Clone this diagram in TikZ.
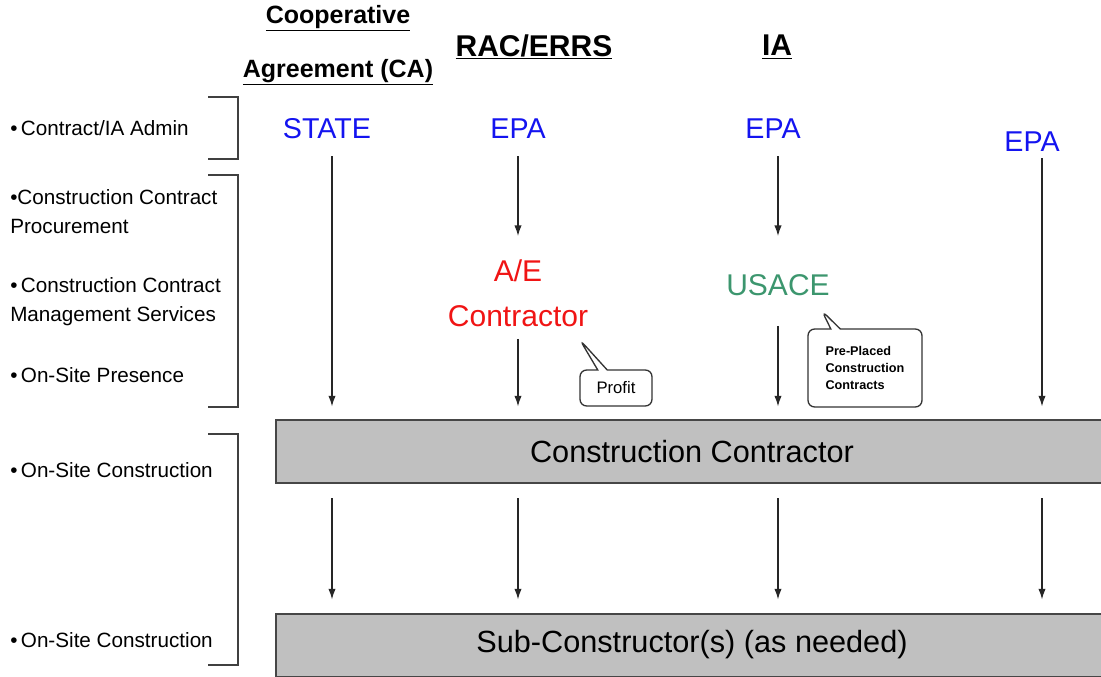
\documentclass[tikz,border=0pt]{standalone}
\usepackage{fontspec}
\setmainfont{Liberation Sans}
\usetikzlibrary{arrows.meta,shapes.callouts}
\definecolor{myblue}{RGB}{20,20,240}
\definecolor{myred}{RGB}{240,20,20}
\definecolor{mygreen}{RGB}{60,150,110}
\definecolor{boxgray}{RGB}{192,192,192}
\definecolor{edgegray}{RGB}{70,70,70}
\tikzset{
  hdr/.style={font=\fontsize{18.75}{22}\selectfont\bfseries, inner sep=0pt},
  bighdr/.style={font=\fontsize{22.5}{26}\selectfont\bfseries, inner sep=0pt},
  actor/.style={font=\fontsize{21.5}{26}\selectfont, inner sep=0pt},
  side/.style={font=\fontsize{15.5}{21.75}\selectfont, inner sep=0pt, anchor=west, align=left},
  bar/.style={draw=edgegray, line width=1.5pt, fill=boxgray, minimum width={833*0.75pt}, minimum height={63*0.75pt}, inner sep=0pt, font=\fontsize{23}{26}\selectfont},
  arr/.style={draw=black!85, line width=1pt, -{Latex[length=8pt,width=5.5pt]}},
  brk/.style={draw=black!75, line width=1.4pt},
  bubble/.style={rectangle callout, draw=black!80, line width=1pt, rounded corners=5pt, fill=white, align=center, inner sep=2pt},
}
\begin{document}
\begin{tikzpicture}[x=0.75pt,y=-0.75pt]
\useasboundingbox (0,0) rectangle (1101,677);
% headers
\node[hdr] (h1) at (338,18) {\underline{Cooperative}};
\node[hdr] (h2) at (338,72) {\underline{Agreement (CA)}};
\node[bighdr] (h3) at (534,47) {\underline{RAC/ERRS}};
\node[bighdr] (h4) at (777,47) {\underline{IA}};
% actors
\node[actor, text=myblue] (state) at (327,129) {STATE};
\node[actor, text=myblue] (epa1) at (518,129) {EPA};
\node[actor, text=myblue] (epa2) at (773,129) {EPA};
\node[actor, text=myblue] (epa3) at (1032,142) {EPA};
\node[actor, text=myred, align=center, font=\fontsize{22.5}{34}\selectfont] (ae) at (518,293) {A/E\\Contractor};
\node[actor, text=mygreen, font=\fontsize{22.5}{26}\selectfont] (usace) at (778,285) {USACE};
% bars
\node[bar] (cc) at (692,452) {Construction Contractor};
\node[bar] (sub) at (692,645) {Sub-Constructor(s) (as needed)};
% column x positions
\coordinate (x1) at (332,0);
\coordinate (x2) at (518,0);
\coordinate (x3) at (778,0);
\coordinate (x4) at (1042,0);
% arrows top
\draw[arr] (state.south -| x1) ++(0,17) -- ([yshift=13*0.75pt]cc.north -| x1);
\draw[arr] (epa1.south -| x2) ++(0,17) -- ([yshift=23*0.75pt]ae.north -| x2);
\draw[arr] (ae.south -| x2) ++(0,12) -- ([yshift=13*0.75pt]cc.north -| x2);
\draw[arr] (epa2.south -| x3) ++(0,17) -- ([yshift=38*0.75pt]usace.north -| x3);
\draw[arr] (usace.south -| x3) ++(0,30) -- ([yshift=13*0.75pt]cc.north -| x3);
\draw[arr] (epa3.south -| x4) ++(0,6) -- ([yshift=13*0.75pt]cc.north -| x4);
% arrows bottom
\foreach \c in {x1,x2,x3,x4}
  \draw[arr] ([yshift=-14*0.75pt]cc.south -| \c) -- ([yshift=13*0.75pt]sub.north -| \c);
% callouts
\node[bubble, minimum width={72*0.75pt}, minimum height={36*0.75pt}, font=\fontsize{12.5}{14}\selectfont, callout absolute pointer={(580,340)}] (profit) at (616,388) {Profit};
\node[bubble, minimum width={114*0.75pt}, minimum height={78*0.75pt}, font=\fontsize{9.5}{12.5}\selectfont\bfseries, align=left, callout absolute pointer={(822,311)}] (pre) at (865,368) {Pre-Placed\\Construction\\Contracts};
% side labels
\node[side] (l1) at (10,128) {\textbullet\,Contract/IA Admin};
\node[side] (l2) at (10,212) {\textbullet Construction Contract\\Procurement};
\node[side] (l3) at (10,302) {\textbullet\,Construction Contract\\Management Services};
\node[side] (l4) at (10,375) {\textbullet\,On-Site Presence};
\node[side] (l5) at (10,470) {\textbullet\,On-Site Construction};
\node[side] (l6) at (10,640) {\textbullet\,On-Site Construction};
% brackets
\draw[brk] (208,97) -- (238,97) -- (238,159) -- (208,159);
\draw[brk] (208,175) -- (238,175) -- (238,407) -- (208,407);
\draw[brk] (208,434) -- (238,434) -- (238,665) -- (208,665);
\end{tikzpicture}
\end{document}
